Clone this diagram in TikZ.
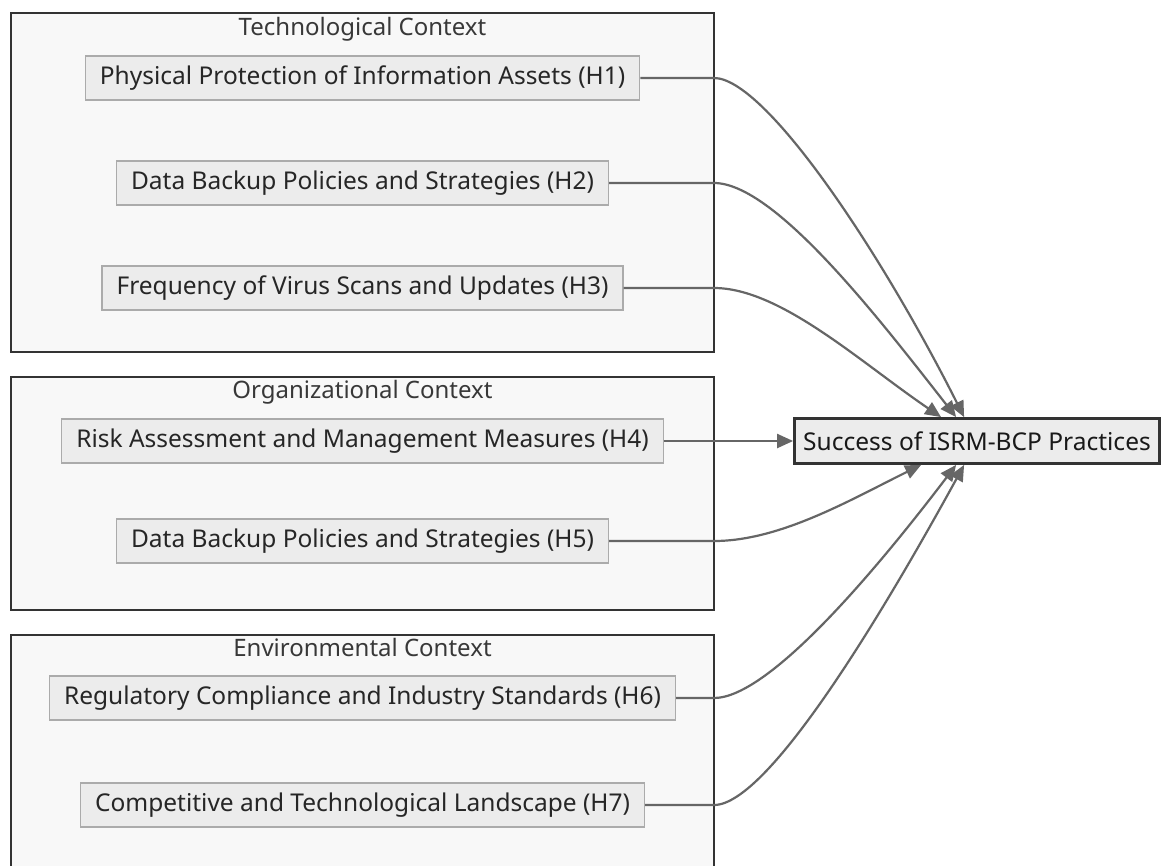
\documentclass[tikz,border=0pt]{standalone}
\usepackage{fontspec}
\setmainfont{Noto Sans}
\usetikzlibrary{arrows.meta,calc}
\definecolor{nodefill}{HTML}{ECECEC}
\definecolor{nodeline}{HTML}{ABABAB}
\definecolor{clusterfill}{HTML}{F8F8F8}
\definecolor{clusterline}{HTML}{333333}
\definecolor{edgecol}{HTML}{666666}
\tikzset{
  cluster/.style={draw=clusterline, fill=clusterfill, line width=2.4pt},
  ctitle/.style={anchor=base, font=\fontsize{24}{28}\selectfont, text=black!78, inner sep=0pt},
  hnode/.style={draw=nodeline, fill=nodefill, line width=1.3pt, minimum height=44pt, inner xsep=14.5pt, inner ysep=0pt, font=\fontsize{24.5}{28}\selectfont, text=black!85},
  target/.style={draw=clusterline, fill=nodefill, line width=2.8pt, minimum height=45pt, minimum width=365pt, inner sep=0pt, font=\fontsize{24.5}{28}\selectfont, text=black!90},
  conn/.style={draw=edgecol, line width=2.2pt, -{Triangle[length=16pt,width=14pt]}}
}
\begin{document}
\begin{tikzpicture}[x=1pt,y=-1pt]
\useasboundingbox (0,0) rectangle (1161,865);
\fill[white] (0,0) rectangle (1161,865);
% clusters
\draw[cluster] (11,13) rectangle (714,352);
\node[ctitle] (ct1) at (362.5,35) {Technological Context};
\draw[cluster] (11,377) rectangle (714,610);
\node[ctitle] (ct2) at (362.5,398) {Organizational Context};
\draw[cluster] (11,635) rectangle (714,880);
\node[ctitle] (ct3) at (362.5,656) {Environmental Context};
% nodes
\node[hnode] (h1) at (362.5,78) {Physical Protection of Information Assets (H1)};
\node[hnode] (h2) at (362.5,183) {Data Backup Policies and Strategies (H2)};
\node[hnode] (h3) at (362.5,288) {Frequency of Virus Scans and Updates (H3)};
\node[hnode] (h4) at (362.5,441) {Risk Assessment and Management Measures (H4)};
\node[hnode] (h5) at (362.5,541) {Data Backup Policies and Strategies (H5)};
\node[hnode] (h6) at (362.5,698) {Regulatory Compliance and Industry Standards (H6)};
\node[hnode] (h7) at (362.5,805) {Competitive and Technological Landscape (H7)};
\node[target] (t) at (977,441) {Success of ISRM-BCP Practices};
% attachment points
\coordinate (t1) at ($(t.north west)+(171,0)$);
\coordinate (t2) at ($(t.north west)+(163,0)$);
\coordinate (t3) at ($(t.north west)+(148,0)$);
\coordinate (b5) at ($(t.south west)+(128,0)$);
\coordinate (b6) at ($(t.south west)+(163,0)$);
\coordinate (b7) at ($(t.south west)+(171,0)$);
% bend points on the cluster border
\coordinate (k1) at (714,78);
\coordinate (k2) at (714,183);
\coordinate (k3) at (714,288);
\coordinate (k5) at (714,541);
\coordinate (k6) at (714,698);
\coordinate (k7) at (714,805);
% connectors
\draw[conn] (h1.east) -- (k1) .. controls (765,78) and (880,250) .. (t1);
\draw[conn] (h2.east) -- (k2) .. controls (775,183) and (880,320) .. (t2);
\draw[conn] (h3.east) -- (k3) .. controls (780,288) and (860,362) .. (t3);
\draw[conn] (h4.east) -- (t.west);
\draw[conn] (h5.east) -- (k5) .. controls (780,541) and (850,500) .. (b5);
\draw[conn] (h6.east) -- (k6) .. controls (770,698) and (880,565) .. (b6);
\draw[conn] (h7.east) -- (k7) .. controls (770,805) and (890,600) .. (b7);
\end{tikzpicture}
\end{document}
